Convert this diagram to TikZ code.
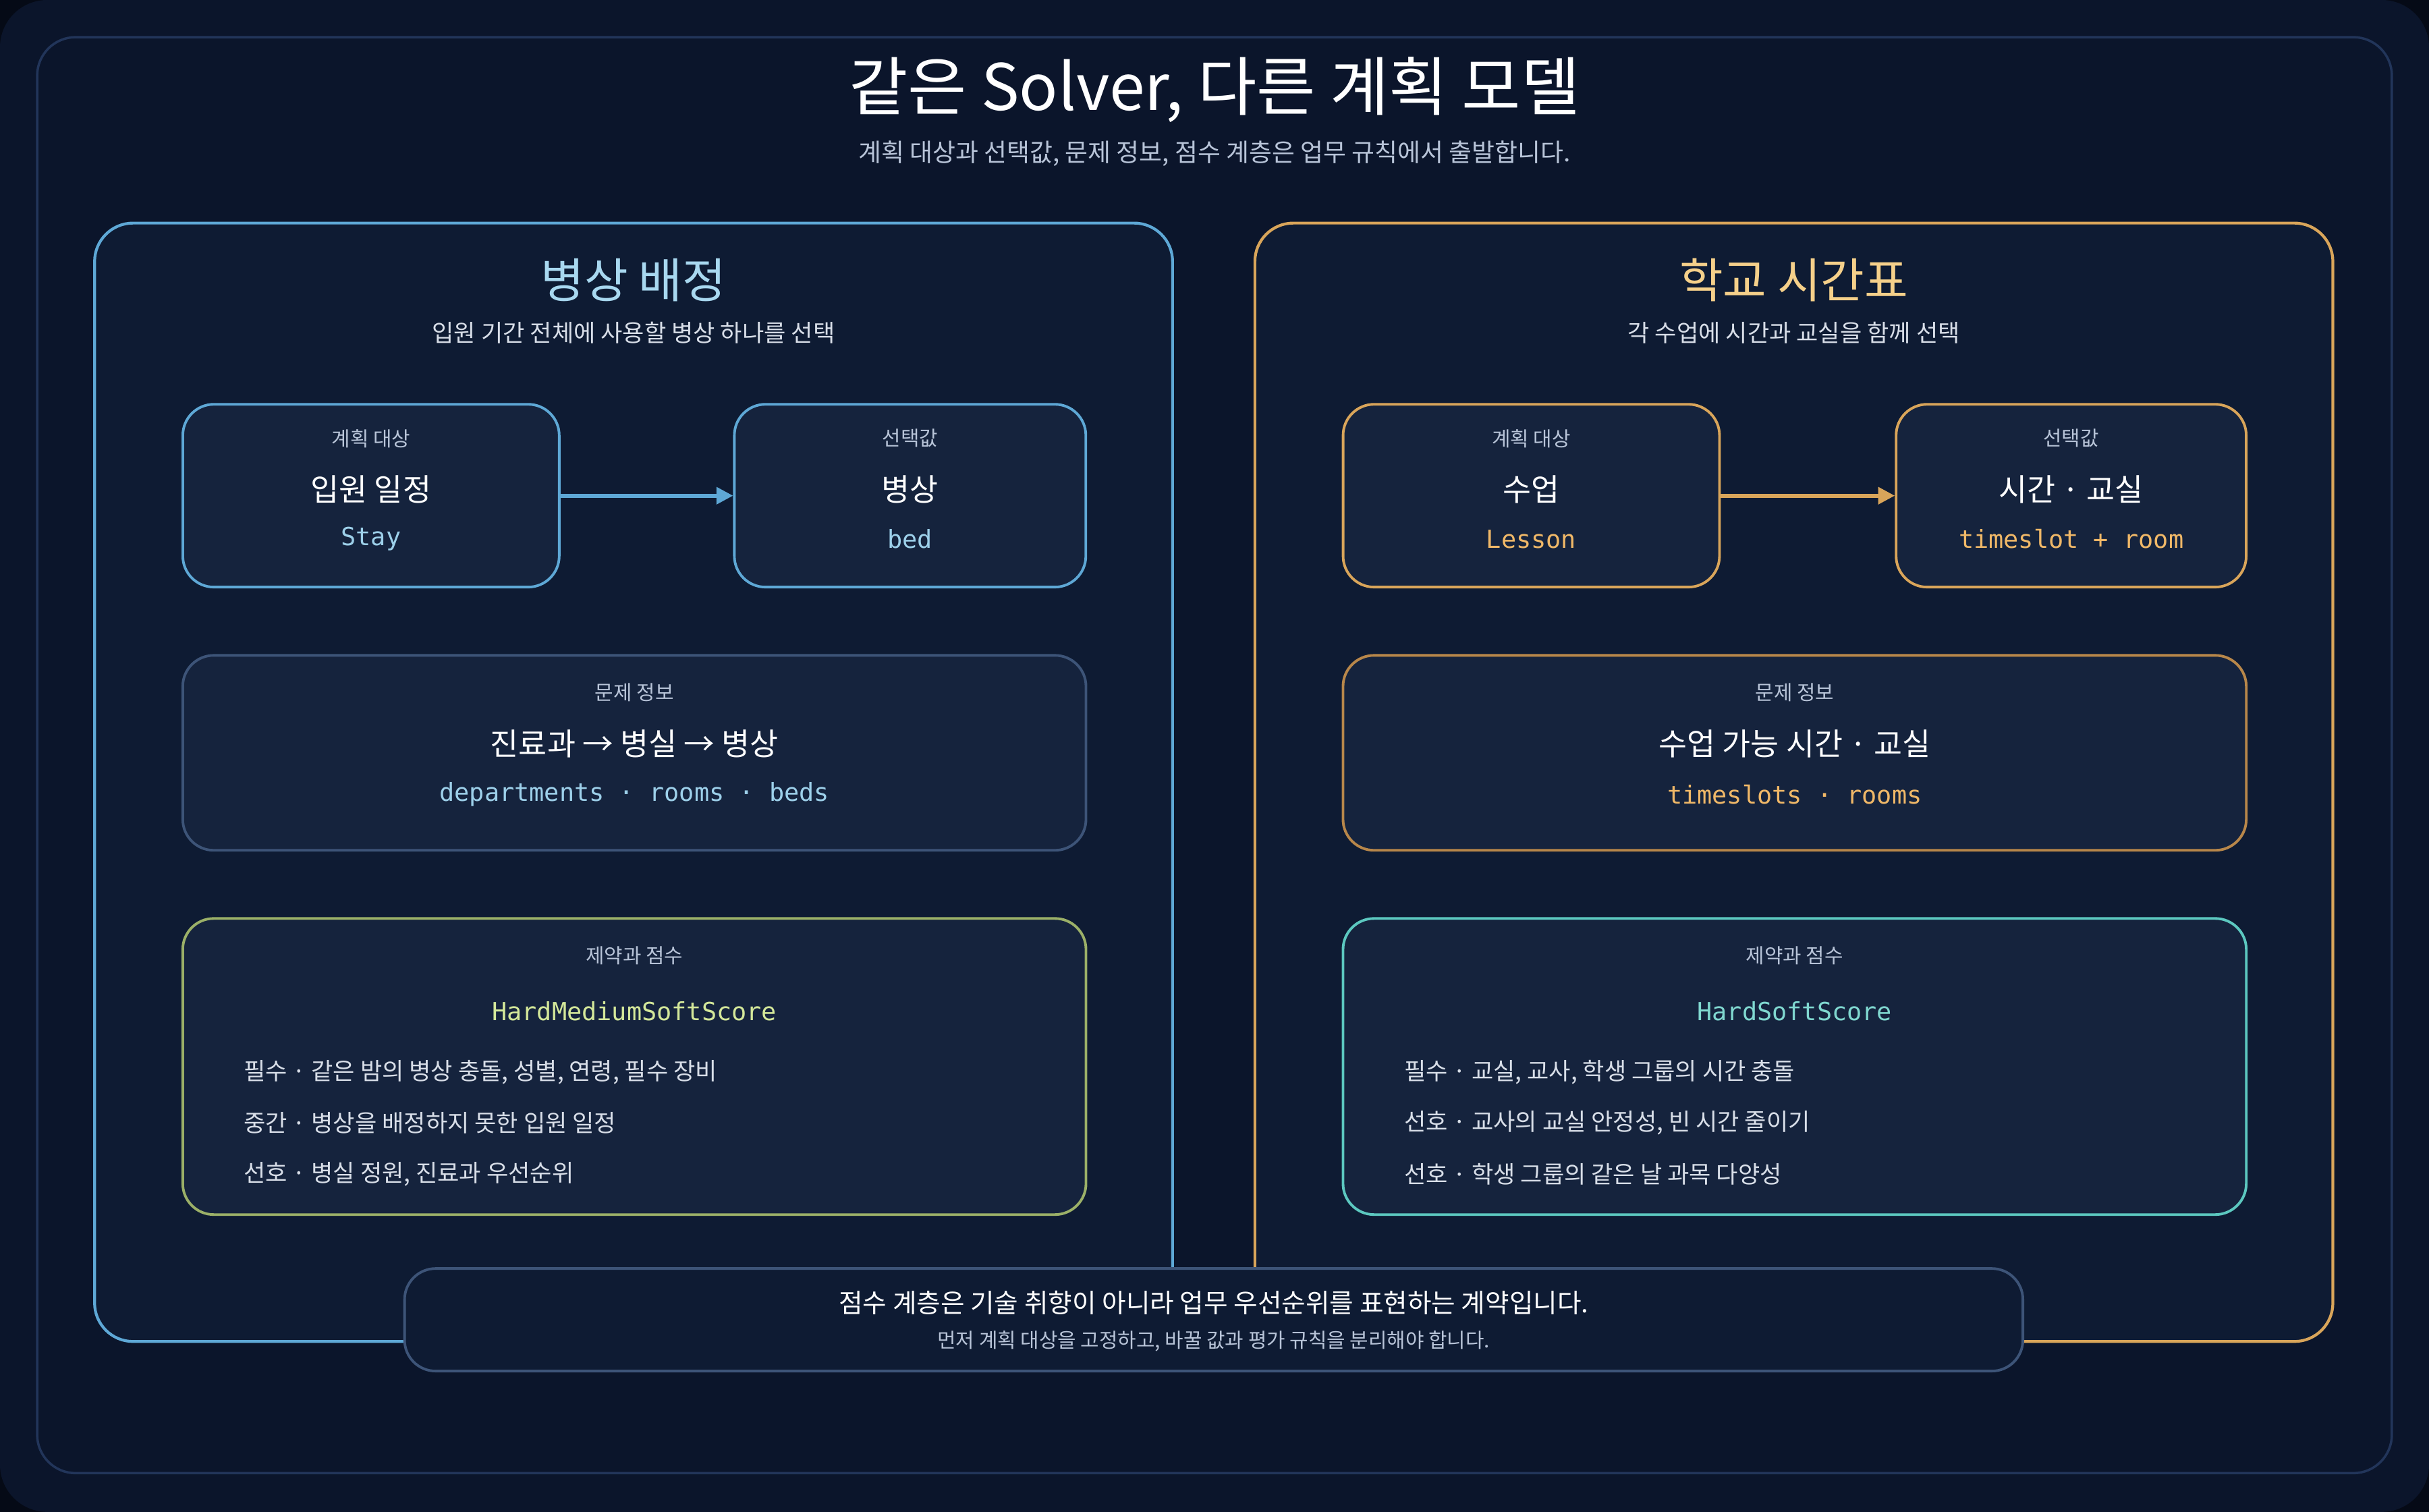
\documentclass[tikz,border=0pt]{standalone}
\usepackage{fontspec}
\setmainfont{Noto Sans CJK KR}
\newfontfamily\codefont{DejaVu Sans Mono}
\usetikzlibrary{positioning, arrows.meta}
\definecolor{pagebg}{HTML}{050A16}
\definecolor{canvas}{HTML}{0B152B}
\definecolor{framec}{HTML}{22355A}
\definecolor{panelbg}{HTML}{0E1B33}
\definecolor{cardbg}{HTML}{15233D}
\definecolor{bedblue}{HTML}{5EA8D6}
\definecolor{bedtitle}{HTML}{A8D8F0}
\definecolor{bedcode}{HTML}{9DD0EA}
\definecolor{schorange}{HTML}{D9A55A}
\definecolor{schtitle}{HTML}{F5D08A}
\definecolor{schcode}{HTML}{F0B868}
\definecolor{probline}{HTML}{3D5478}
\definecolor{probor}{HTML}{B8874A}
\definecolor{scoregreen}{HTML}{9BB068}
\definecolor{greencode}{HTML}{D4E89A}
\definecolor{scoreteal}{HTML}{5CC8C0}
\definecolor{tealcode}{HTML}{80D8D0}
\definecolor{subtext}{HTML}{B8C4D8}
\definecolor{bodytext}{HTML}{D8DEE8}

\begin{document}
\begin{tikzpicture}[
    x=0.02296cm, y=-0.02296cm,
    panel/.style={draw=#1, line width=1.2pt, fill=panelbg, rounded corners=0.57cm,
      minimum width=15.98cm, minimum height=16.58cm},
    card/.style={draw=#1, line width=1.1pt, fill=cardbg, rounded corners=0.46cm},
    small/.style={text=subtext, font=\fontsize{8.5}{10}\selectfont},
    big/.style={text=white, font=\fontsize{13}{15}\selectfont},
    code/.style={text=#1, font=\codefont\fontsize{10.5}{12}\selectfont},
    rule/.style={text=bodytext, font=\fontsize{10}{12}\selectfont, anchor=west},
    arrow/.style={-{Triangle[length=7pt,width=7pt]}, line width=1.6pt, draw=#1}
  ]
    \fill[pagebg] (0,0) rectangle (1568,976);
    \fill[canvas, rounded corners=0.7cm] (0,0) rectangle (1568,976);
    \draw[framec, line width=1pt, rounded corners=0.57cm] (24,24) rectangle (1544,951);

    \node[text=white, font=\fontsize{27}{30}\selectfont] (title) at (784,58) {같은 Solver, 다른 계획 모델};
    \node[text=subtext, font=\fontsize{10.5}{12}\selectfont] (subtitle) at (784,99)
      {계획 대상과 선택값, 문제 정보, 점수 계층은 업무 규칙에서 출발합니다.};

    % hospital bed planning
    \node[panel=bedblue] (bedpanel) at (409,505) {};
    \node[text=bedtitle, font=\fontsize{20}{22}\selectfont] (bedtitle) at (409,181) {병상 배정};
    \node[text=bodytext, font=\fontsize{10}{12}\selectfont] (bedsub) at (409,215) {입원 기간 전체에 사용할 병상 하나를 선택};

    \node[card=bedblue, minimum width=5.58cm, minimum height=2.71cm] (stay) at (239.5,320) {};
    \node[small] at (239.5,283) {계획 대상};
    \node[big] at (239.5,316) {입원 일정};
    \node[code=bedcode] at (239.5,348) {Stay};

    \node[card=bedblue, minimum width=5.21cm, minimum height=2.71cm] (bed) at (587.5,320) {};
    \node[small] at (587.5,283) {선택값};
    \node[big] at (587.5,316) {병상};
    \node[code=bedcode] at (587.5,348) {bed};

    \draw[arrow=bedblue] (stay) -- (bed);

    \node[card=probline, minimum width=13.39cm, minimum height=2.89cm] (bedfacts) at (409.5,486) {};
    \node[small] at (409.5,447) {문제 정보};
    \node[big] at (409.5,480) {진료과 → 병실 → 병상};
    \node[code=bedcode] at (409.5,513) {departments · rooms · beds};

    \node[card=scoregreen, minimum width=13.39cm, minimum height=4.39cm] (bedscore) at (409.5,688.5) {};
    \node[small] at (409.5,617) {제약과 점수};
    \node[code=greencode] at (409.5,653) {HardMediumSoftScore};
    \node[rule] at (152,692) {필수 · 같은 밤의 병상 충돌, 성별, 연령, 필수 장비};
    \node[rule] at (152,725) {중간 · 병상을 배정하지 못한 입원 일정};
    \node[rule] at (152,758) {선호 · 병실 정원, 진료과 우선순위};

    % school timetable
    \node[panel=schorange] (schpanel) at (1158,505) {};
    \node[text=schtitle, font=\fontsize{20}{22}\selectfont] (schtitle) at (1158,181) {학교 시간표};
    \node[text=bodytext, font=\fontsize{10}{12}\selectfont] (schsub) at (1158,215) {각 수업에 시간과 교실을 함께 선택};

    \node[card=schorange, minimum width=5.58cm, minimum height=2.71cm] (lesson) at (988.5,320) {};
    \node[small] at (988.5,283) {계획 대상};
    \node[big] at (988.5,316) {수업};
    \node[code=schcode] at (988.5,348) {Lesson};

    \node[card=schorange, minimum width=5.19cm, minimum height=2.71cm] (slot) at (1337,320) {};
    \node[small] at (1337,283) {선택값};
    \node[big] at (1337,316) {시간 · 교실};
    \node[code=schcode] at (1337,348) {timeslot + room};

    \draw[arrow=schorange] (lesson) -- (slot);

    \node[card=probor, minimum width=13.39cm, minimum height=2.89cm] (schfacts) at (1158.5,486) {};
    \node[small] at (1158.5,447) {문제 정보};
    \node[big] at (1158.5,480) {수업 가능 시간 · 교실};
    \node[code=schcode] at (1158.5,513) {timeslots · rooms};

    \node[card=scoreteal, minimum width=13.39cm, minimum height=4.39cm] (schscore) at (1158.5,688.5) {};
    \node[small] at (1158.5,617) {제약과 점수};
    \node[code=tealcode] at (1158.5,653) {HardSoftScore};
    \node[rule] at (901,692) {필수 · 교실, 교사, 학생 그룹의 시간 충돌};
    \node[rule] at (901,725) {선호 · 교사의 교실 안정성, 빈 시간 줄이기};
    \node[rule] at (901,758) {선호 · 학생 그룹의 같은 날 과목 다양성};

    % closing note
    \node[draw=probline, line width=1.1pt, fill=panelbg, rounded corners=0.46cm,
      minimum width=23.99cm, minimum height=1.52cm] (note) at (783.5,852) {};
    \node[text=white, font=\fontsize{11}{13}\selectfont] at (783.5,841)
      {점수 계층은 기술 취향이 아니라 업무 우선순위를 표현하는 계약입니다.};
    \node[small] at (783.5,866) {먼저 계획 대상을 고정하고, 바꿀 값과 평가 규칙을 분리해야 합니다.};
\end{tikzpicture}
\end{document}
